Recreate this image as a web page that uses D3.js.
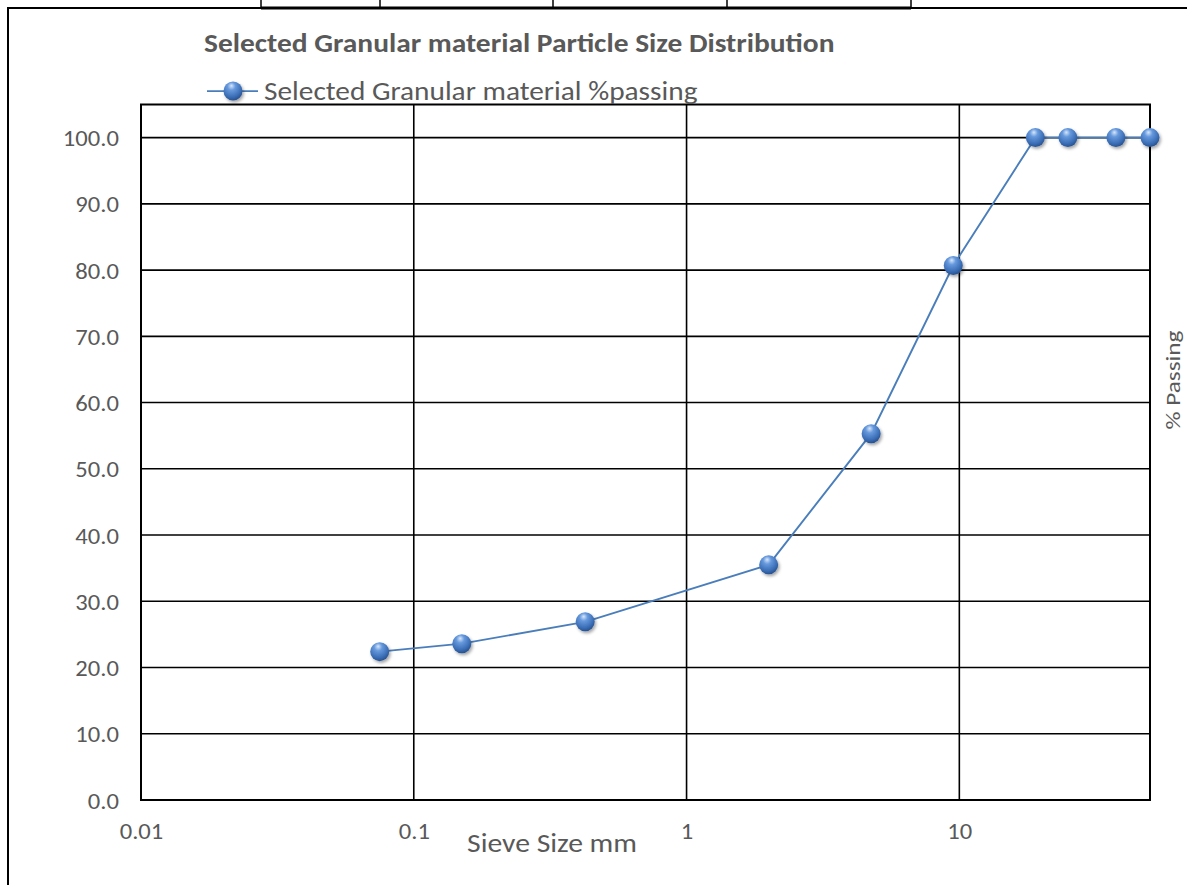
<!DOCTYPE html>
<html>
<head>
<meta charset="utf-8">
<script src="https://cdn.jsdelivr.net/npm/d3@7"></script>
<style>
  body { margin: 0; background: #fff; }
  svg { display: block; }
  text { font-family: Carlito, Calibri, "Open Sans", sans-serif; fill: #595959; }
</style>
</head>
<body>
<div id="chart"></div>
<script>
const svgWidth = 1187
const svgHeight = 885

// sieve sizes (mm) and % passing
const sieveSizes = [0.075, 0.15, 0.425, 2, 4.75, 9.5, 19, 25, 37.5, 50]
const passing = [22.4, 23.6, 26.9, 35.5, 55.3, 80.7, 100, 100, 100, 100]
const xTicks = [0.01, 0.1, 1, 10]
const xTickLabels = ["0.01", "0.1", "1", "10"]
const yTicks = [0, 10, 20, 30, 40, 50, 60, 70, 80, 90, 100]

const titleText = "Selected Granular material Particle Size Distribution"
const seriesName = "Selected Granular material %passing"

const plot = { left: 141, right: 1150, top: 104.5, bottom: 800 }
// the original picture is a little wider than tall, so text gets stretched
const stretch = 1.12

const svg = d3.select("#chart")
  .append("svg")
  .attr("width", svgWidth)
  .attr("height", svgHeight)

// gradient for the glossy marker
const defs = svg.append("defs")
const grad = defs.append("radialGradient")
  .attr("id", "ball")
  .attr("cx", "42%").attr("cy", "32%").attr("r", "70%")
  .attr("fx", "42%").attr("fy", "22%")
grad.append("stop").attr("offset", "0%").attr("stop-color", "#d6e6fa")
grad.append("stop").attr("offset", "30%").attr("stop-color", "#6699dd")
grad.append("stop").attr("offset", "75%").attr("stop-color", "#3a6db5")
grad.append("stop").attr("offset", "100%").attr("stop-color", "#264f8c")

const shadow = defs.append("filter").attr("id", "shadow")
  .attr("x", "-50%").attr("y", "-50%").attr("width", "200%").attr("height", "200%")
shadow.append("feDropShadow")
  .attr("dx", 1.5).attr("dy", 2).attr("stdDeviation", 1.5)
  .attr("flood-color", "#000").attr("flood-opacity", 0.35)

// page borders (remains of the surrounding table)
svg.append("path")
  .attr("d", `M8,${svgHeight + 5}V8H${svgWidth + 5}`)
  .attr("fill", "none").attr("stroke", "#000").attr("stroke-width", 2)
svg.append("path")
  .attr("d", "M261,8H911")
  .attr("stroke", "#000").attr("stroke-width", 3)
for (const cx of [261, 380, 553, 727, 911]) {
  svg.append("line")
    .attr("x1", cx).attr("x2", cx).attr("y1", 0).attr("y2", 8)
    .attr("stroke", "#000").attr("stroke-width", 1.5)
}

const x = d3.scaleLog().domain([0.01, 50]).range([plot.left, plot.right])
const y = d3.scaleLinear().domain([0, 105]).range([plot.bottom, plot.top])

// grid
const grid = svg.append("g").attr("stroke", "#000").attr("stroke-width", 1.6)
grid.selectAll(".h").data(yTicks).enter().append("line")
  .attr("x1", plot.left).attr("x2", plot.right)
  .attr("y1", d => y(d)).attr("y2", d => y(d))
grid.selectAll(".v").data(xTicks).enter().append("line")
  .attr("x1", d => x(d)).attr("x2", d => x(d))
  .attr("y1", plot.top).attr("y2", plot.bottom)

svg.append("rect")
  .attr("x", plot.left).attr("y", plot.top)
  .attr("width", plot.right - plot.left).attr("height", plot.bottom - plot.top)
  .attr("fill", "none").attr("stroke", "#000").attr("stroke-width", 2)

// axes labels
const yAxis = svg.append("g")
  .attr("transform", `translate(${plot.left - 22},1)`)
  .call(d3.axisLeft(y).tickValues(yTicks).tickFormat(d3.format(".1f")).tickSize(0).tickPadding(0))
yAxis.select(".domain").remove()
yAxis.selectAll("text")
  .style("font-size", "22px").attr("fill", "#595959")
  .attr("transform", `scale(${stretch},1)`)

const xAxis = svg.append("g")
  .attr("transform", `translate(0,${plot.bottom + 23})`)
  .call(d3.axisBottom(x).tickValues(xTicks).tickFormat((d, i) => xTickLabels[i]).tickSize(0).tickPadding(0))
xAxis.select(".domain").remove()
xAxis.selectAll("text")
  .style("font-size", "22px").attr("fill", "#595959")
  .attr("transform", `scale(${stretch},1)`)

svg.append("text")
  .attr("transform", `translate(552,852) scale(${stretch},1)`)
  .attr("text-anchor", "middle")
  .style("font-size", "26.5px")
  .text("Sieve Size mm")

svg.append("text")
  .attr("transform", "translate(1180,380) rotate(-90) scale(1.2,1)")
  .attr("text-anchor", "middle")
  .style("font-size", "21px")
  .text("% Passing")

// title + legend
svg.append("text")
  .attr("transform", `translate(204,52) scale(${stretch},1)`)
  .style("font-size", "26.3px").style("font-weight", "bold")
  .text(titleText)

const legend = svg.append("g").attr("transform", "translate(207,91)")
legend.append("line").attr("x1", 0).attr("x2", 51)
  .attr("stroke", "#4a7ebb").attr("stroke-width", 1.75)
legend.append("circle").attr("cx", 26).attr("cy", 0).attr("r", 9.5)
  .attr("fill", "url(#ball)").attr("filter", "url(#shadow)")
legend.append("text")
  .attr("transform", `translate(57,9) scale(${stretch},1)`)
  .style("font-size", "26.2px")
  .text(seriesName)

// series
const points = sieveSizes.map((s, i) => ({ size: s, pass: passing[i] }))
const line = d3.line().x(d => x(d.size)).y(d => y(d.pass))

svg.append("path")
  .datum(points)
  .attr("d", line)
  .attr("fill", "none")
  .attr("stroke", "#4a7ebb")
  .attr("stroke-width", 1.9)

svg.append("g").selectAll("circle")
  .data(points).enter().append("circle")
  .attr("cx", d => x(d.size))
  .attr("cy", d => y(d.pass))
  .attr("r", 9.5)
  .attr("fill", "url(#ball)")
  .attr("filter", "url(#shadow)")
</script>
</body>
</html>
